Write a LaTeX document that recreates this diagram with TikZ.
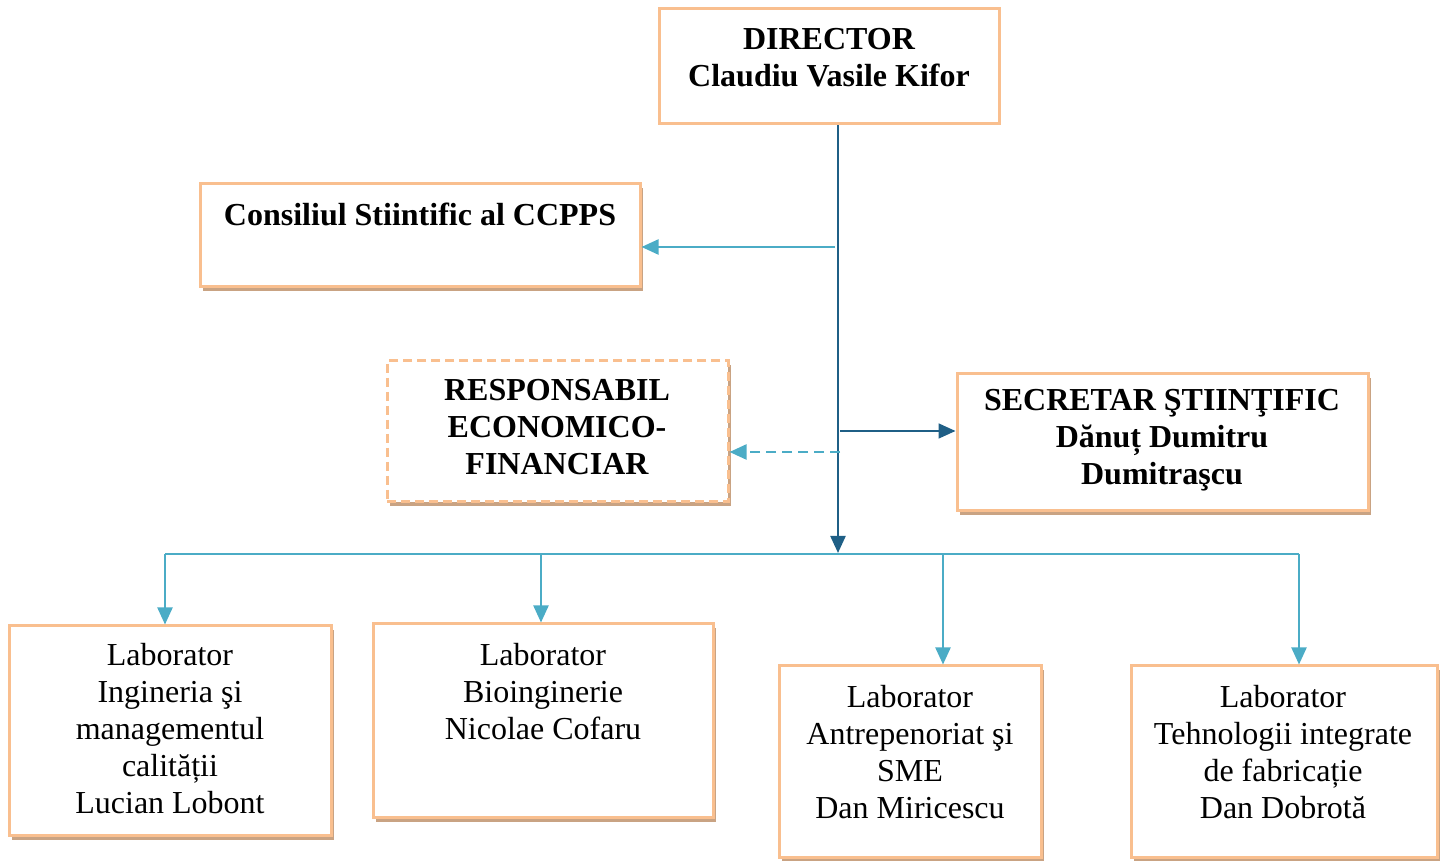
\documentclass[tikz,border=0pt]{standalone}
\usepackage{fontspec}
\setmainfont{Liberation Serif}
\usetikzlibrary{arrows.meta,shadows}
\definecolor{boxorange}{HTML}{F9BF8F}
\definecolor{shadowtan}{HTML}{C9A383}
\definecolor{lineblue}{HTML}{4BACC6}
\definecolor{darkblue}{HTML}{1F5F86}
\tikzset{
  orgbox/.style={draw=boxorange, line width=3pt, fill=white, rectangle, inner sep=0pt},
  shadowbox/.style={orgbox, drop shadow={shadow xshift=3pt, shadow yshift=-4pt, fill=shadowtan, opacity=1}},
  headtext/.style={align=center, font=\fontsize{32}{37}\selectfont\bfseries},
  labtext/.style={align=center, font=\fontsize{32}{37}\selectfont},
  link/.style={draw=lineblue, line width=2.2pt, -{Triangle[length=17pt,width=15pt]}},
  darklink/.style={link, draw=darkblue},
}
\begin{document}
\begin{tikzpicture}[x=1pt, y=1pt]
      \useasboundingbox (0,0) rectangle (1443,861);
      %
      \node[orgbox, minimum width=340pt, minimum height=115pt] (director) at (829,794.5) {};
      \node[headtext] (directortext) at (829,803) {DIRECTOR\\Claudiu Vasile Kifor};
      %
      \node[shadowbox, minimum width=440pt, minimum height=103pt] (council) at (420,625.5) {};
      \node[headtext] (counciltext) at (420,647) {Consiliul Stiintific al CCPPS};
      %
      \node[shadowbox, dash pattern=on 9pt off 5pt, minimum width=341pt, minimum height=141pt] (finance) at (557.5,429.5) {};
      \node[headtext] (financetext) at (557,434) {RESPONSABIL\\ECONOMICO-\\FINANCIAR};
      %
      \node[shadowbox, minimum width=411pt, minimum height=137pt] (secretary) at (1162.5,418.5) {};
      \node[headtext] (secretarytext) at (1162,421) {SECRETAR ŞTIINŢIFIC\\Dănuț Dumitru\\Dumitraşcu};
      %
      % laboratoare
      \node[shadowbox, minimum width=322pt, minimum height=210pt] (labone) at (170,130) {};
      \node[labtext] (labonetext) at (170,132) {Laborator\\Ingineria şi\\managementul\\calității\\Lucian Lobont};
      \node[shadowbox, minimum width=340pt, minimum height=194pt] (labtwo) at (543,140) {};
      \node[labtext] (labtwotext) at (543,169) {Laborator\\Bioinginerie\\Nicolae Cofaru};
      \node[shadowbox, minimum width=262pt, minimum height=192pt] (labthree) at (910,99) {};
      \node[labtext] (labthreetext) at (910,109) {Laborator\\Antrepenoriat şi\\SME\\Dan Miricescu};
      \node[shadowbox, minimum width=306pt, minimum height=192pt] (labfour) at (1284,99) {};
      \node[labtext] (labfourtext) at (1283,109) {Laborator\\Tehnologii integrate\\de fabricație\\Dan Dobrotă};
      %
      % trunk and branches
      \coordinate (trunkend) at (838,308);
      \coordinate (tocouncil) at (835,614);
      \coordinate (tosecretary) at (840,430);
      \coordinate (tofinance) at (840,409);
      \draw[darklink] (director.south -| trunkend) -- (trunkend);
      \draw[link] (tocouncil) -- (council.east |- tocouncil);
      \draw[darklink, line width=1.6pt] (tosecretary) -- (secretary.west |- tosecretary);
      \draw[link, dash pattern=on 10pt off 6pt] (tofinance) -- (finance.east |- tofinance);
      %
      % bus to the laboratories
      \coordinate (dropone) at (165,307);
      \coordinate (droptwo) at (541,307);
      \coordinate (dropthree) at (943,307);
      \coordinate (dropfour) at (1299,307);
      \draw[draw=lineblue, line width=2.2pt] (dropone) -- (dropfour);
      \foreach \d/\lab in {dropone/labone, droptwo/labtwo, dropthree/labthree, dropfour/labfour}
        \draw[link] (\d) -- (\d |- \lab.north);
      %
    \end{tikzpicture}
\end{document}
